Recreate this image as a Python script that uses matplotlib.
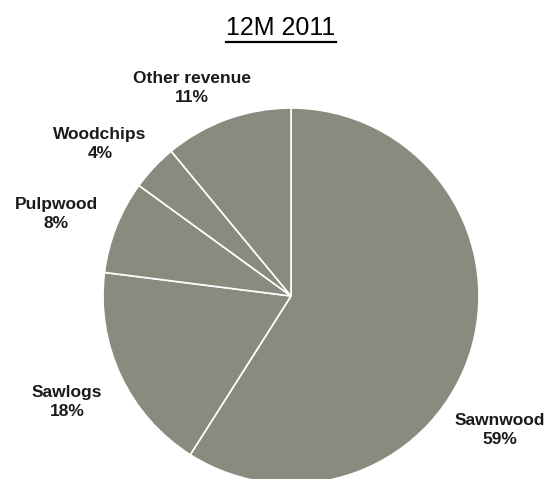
import matplotlib
matplotlib.use('Agg')
import matplotlib.pyplot as plt
from matplotlib.lines import Line2D

# data, clockwise from 12 o'clock
labels = ['Sawnwood', 'Sawlogs', 'Pulpwood', 'Woodchips', 'Other revenue']
shares = [59, 18, 8, 4, 11]
title = '12M 2011'

# label anchor points in pixel coords (x, y from top)
label_pos = [(500, 430), (67, 402), (56, 214), (100, 144), (192, 88)]

W, H = 550, 479
fig = plt.figure(figsize=(W / 100, H / 100), dpi=100)
ax = fig.add_axes([0, 0, 1, 1])

ax.pie(shares, startangle=90, counterclock=False, radius=188,
       center=(291, H - 296), colors=['#898b7e'] * len(shares),
       wedgeprops=dict(edgecolor='white', linewidth=1.2), frame=True)
ax.set_xlim(0, W)
ax.set_ylim(0, H)
ax.set_aspect('equal')
ax.axis('off')

lab_font = ['Liberation Sans Narrow', 'Liberation Sans', 'DejaVu Sans']
for name, val, (x, y) in zip(labels, shares, label_pos):
    ax.text(x, H - y, f'{name}\n{val}%', ha='center', va='center',
            fontsize=12.5, fontweight='bold', family=lab_font,
            color='#1a1a1a', linespacing=1.3)

t = fig.text(281 / W, 1 - 28 / H, title, ha='center', va='center',
             fontsize=18, family=['Liberation Sans', 'DejaVu Sans'])
fig.canvas.draw()
bb = t.get_window_extent()
yline = 1 - 42 / H
fig.add_artist(Line2D([bb.x0 / W, bb.x1 / W], [yline, yline],
                      color='black', linewidth=1.6))

fig.savefig('out.png', dpi=100)
